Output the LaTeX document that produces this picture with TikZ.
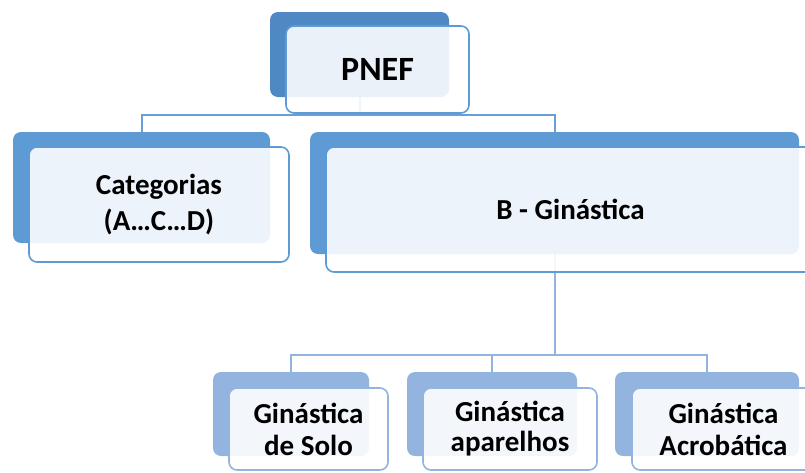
\documentclass[tikz,border=0pt]{standalone}
\usepackage{fontspec}
\setmainfont{Carlito}
\pgfdeclarelayer{bg}
\pgfsetlayers{bg,main}
\definecolor{czero}{RGB}{79,136,195}
\definecolor{cone}{RGB}{94,154,211}
\definecolor{ctwo}{RGB}{146,180,222}
\definecolor{lineone}{RGB}{104,159,214}
\tikzset{
  backbox/.style={rectangle, rounded corners=8pt, inner sep=0pt, draw=none},
  frontbox/.style={rectangle, rounded corners=8pt, inner sep=0pt, line width=1.6pt,
     fill=white, fill opacity=0.89, text opacity=1, align=center, text=black,
     font=\bfseries\fontsize{29}{36}\selectfont},
  connone/.style={draw=lineone, line width=2pt},
  conntwo/.style={draw=ctwo, line width=2pt},
}
\begin{document}
\begin{tikzpicture}[x=1pt,y=-1pt]
\clip (0,0) rectangle (805,472);
% level 0
\node[backbox, fill=czero, minimum width=179pt, minimum height=85pt] (pnefback) at (359.5,54.5) {};
\node[frontbox, draw=cone, minimum width=183pt, minimum height=87pt,
      font=\bfseries\fontsize{34}{40}\selectfont] (pnef) at (377.5,69.5) {PNEF};
% level 1
\node[backbox, fill=cone, minimum width=257pt, minimum height=111pt] (catback) at (141.5,187.5) {};
\node[frontbox, draw=cone, minimum width=260pt, minimum height=115pt] (cat) at (159,204.5) {Categorias\\(A…C…D)};
\node[backbox, fill=cone, minimum width=489pt, minimum height=122pt] (bback) at (554.5,193) {};
\node[frontbox, draw=cone, minimum width=489pt, minimum height=125pt] (bgin) at (570.5,209.5) {B - Ginástica};
% level 2
\node[backbox, fill=ctwo, minimum width=156pt, minimum height=84pt] (sback) at (291,414) {};
\node[frontbox, draw=ctwo, minimum width=159pt, minimum height=82pt,
      font=\bfseries\fontsize{29}{32}\selectfont] (solo) at (308.5,429) {Ginástica\\de Solo};
\node[backbox, fill=ctwo, minimum width=170pt, minimum height=84pt] (aback) at (492,414) {};
\node[frontbox, draw=ctwo, minimum width=174pt, minimum height=82pt,
      font=\bfseries\fontsize{29}{30}\selectfont] (apar) at (510,429) {Ginástica\\aparelhos};
\node[backbox, fill=ctwo, minimum width=184pt, minimum height=84pt] (acback) at (707,414) {};
\node[frontbox, draw=ctwo, minimum width=183pt, minimum height=82pt,
      font=\bfseries\fontsize{29}{32}\selectfont] (acro) at (723.5,429) {Ginástica\\Acrobática};
\coordinate (jone) at (0,115);
\coordinate (jtwo) at (0,355);
\begin{pgfonlayer}{bg}
\draw[connone] (pnefback.south) -- (pnefback.south |- jone) -| (catback.north);
\draw[connone] (pnefback.south |- jone) -| (bback.north);
\draw[conntwo] (bback.south) -- (bback.south |- jtwo) -| (sback.north);
\draw[conntwo] (bback.south |- jtwo) -| (aback.north);
\draw[conntwo] (bback.south |- jtwo) -| (acback.north);
\end{pgfonlayer}
\end{tikzpicture}
\end{document}
